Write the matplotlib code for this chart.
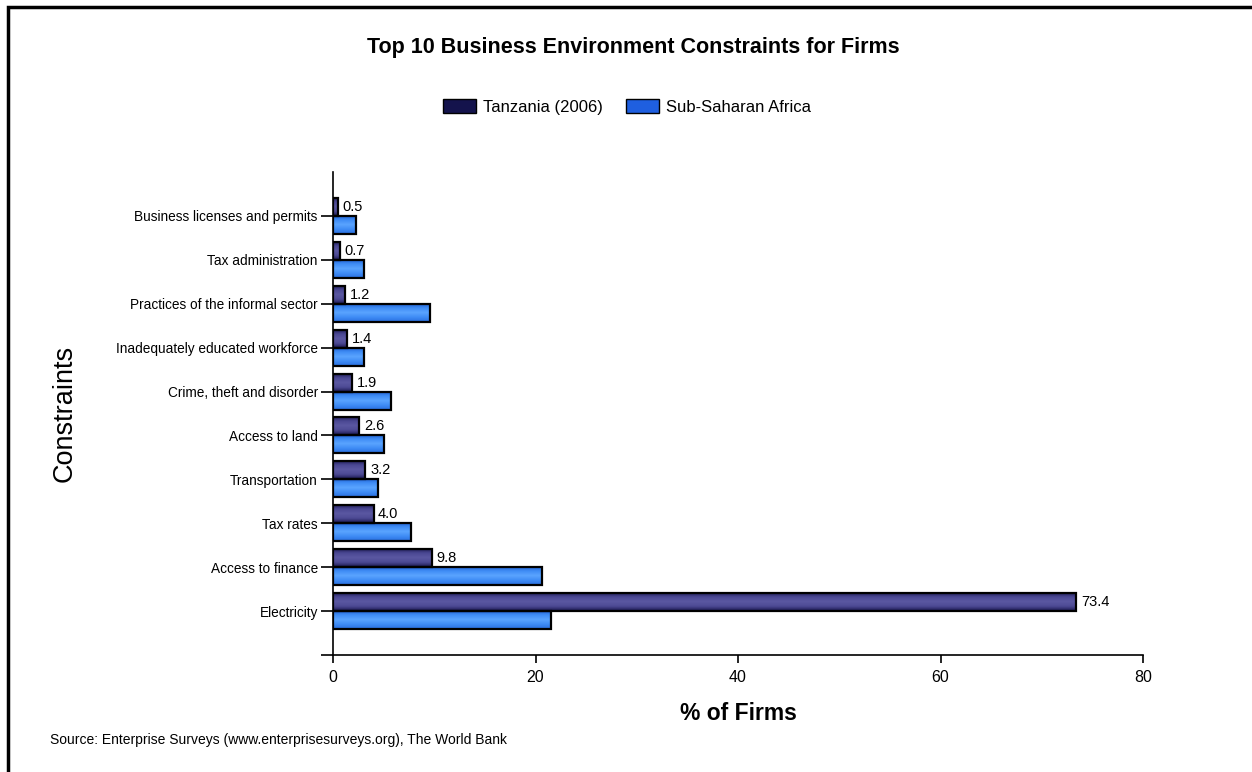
import matplotlib
matplotlib.use("Agg")
import matplotlib.pyplot as plt
from matplotlib.patches import Rectangle, Patch
from matplotlib.colors import LinearSegmentedColormap
import numpy as np

# Constraints listed bottom to top (Electricity at the bottom)
constraints = [
    "Electricity",
    "Access to finance",
    "Tax rates",
    "Transportation",
    "Access to land",
    "Crime, theft and disorder",
    "Inadequately educated workforce",
    "Practices of the informal sector",
    "Tax administration",
    "Business licenses and permits",
]
tanzania = [73.4, 9.8, 4.0, 3.2, 2.6, 1.9, 1.4, 1.2, 0.7, 0.5]
ssa = [21.5, 20.6, 7.7, 4.4, 5.0, 5.7, 3.1, 9.6, 3.1, 2.3]

FONT = ["Liberation Sans", "DejaVu Sans"]
plt.rcParams["font.family"] = FONT

# shaded fills, dark at the edges and lighter towards the top of the bar
tz_cmap = LinearSegmentedColormap.from_list("tz", ["#1a1850", "#4a4792", "#5b58a2", "#4d4a94", "#1a1850"])
ssa_cmap = LinearSegmentedColormap.from_list("ssa", ["#1d5ccc", "#3f8cf5", "#5aa4ff", "#3f8cf5", "#2a6fe0"])
grad = np.linspace(0, 1, 64).reshape(-1, 1)

fig = plt.figure(figsize=(12.52, 7.72), dpi=100)
ax = fig.add_axes([0.266, 0.1516, 0.647, 0.6256])

y = np.arange(len(constraints))
h = 0.41


def shaded_bars(centers, values, cmap):
    for yc, v in zip(centers, values):
        ax.imshow(grad, extent=(0, v, yc - h / 2, yc + h / 2), origin="upper",
                  aspect="auto", cmap=cmap, zorder=1, interpolation="bilinear")
    ax.barh(centers, values, height=h, fill=False, edgecolor="black",
            linewidth=1.6, zorder=2)


shaded_bars(y + h / 2, tanzania, tz_cmap)
shaded_bars(y - h / 2, ssa, ssa_cmap)

for yi, v in zip(y, tanzania):
    ax.text(v + 0.45, yi + h / 2, f"{v:.1f}", va="center", ha="left", fontsize=10.5)

ax.set_xlim(0, 80)
ax.set_ylim(-1, 10)
ax.set_xticks([0, 20, 40, 60, 80])
ax.set_yticks(list(range(-1, 10)))
ax.set_yticklabels([""] + constraints, fontsize=9.8)
ax.tick_params(axis="y", length=9, width=1.2, pad=2)
ax.tick_params(axis="x", length=6, width=1.2, labelsize=11.5, pad=5)
for s in ["top", "right"]:
    ax.spines[s].set_visible(False)
for s in ["left", "bottom"]:
    ax.spines[s].set_linewidth(1.2)

ax.set_xlabel("% of Firms", fontsize=16.5, fontweight="bold", labelpad=12)
fig.text(65 / 1252, 1 - 413 / 772, "Constraints", rotation=90, fontsize=19.5,
         ha="center", va="center")

fig.text(633 / 1252, 1 - 48 / 772, "Top 10 Business Environment Constraints for Firms",
         fontsize=15.5, fontweight="bold", ha="center", va="center")

handles = [Patch(facecolor="#14134c", edgecolor="black"),
           Patch(facecolor="#1f5fe0", edgecolor="black")]
fig.legend(handles, ["Tanzania (2006)", "Sub-Saharan Africa"], loc="center",
           bbox_to_anchor=(627 / 1252, 1 - 107 / 772), ncol=2, frameon=False,
           fontsize=12, handlelength=2.0, handleheight=0.9, columnspacing=1.4,
           handletextpad=0.4)

fig.text(50 / 1252, 1 - 740 / 772,
         "Source: Enterprise Surveys (www.enterprisesurveys.org), The World Bank",
         fontsize=10, ha="left", va="center")

# outer frame around the chart
fig.patches.append(Rectangle((8 / 1252, -0.1), 1.2, 1 - 7 / 772 + 0.1,
                             transform=fig.transFigure, fill=False,
                             edgecolor="black", linewidth=2.5))

fig.savefig("out.png", dpi=100)
